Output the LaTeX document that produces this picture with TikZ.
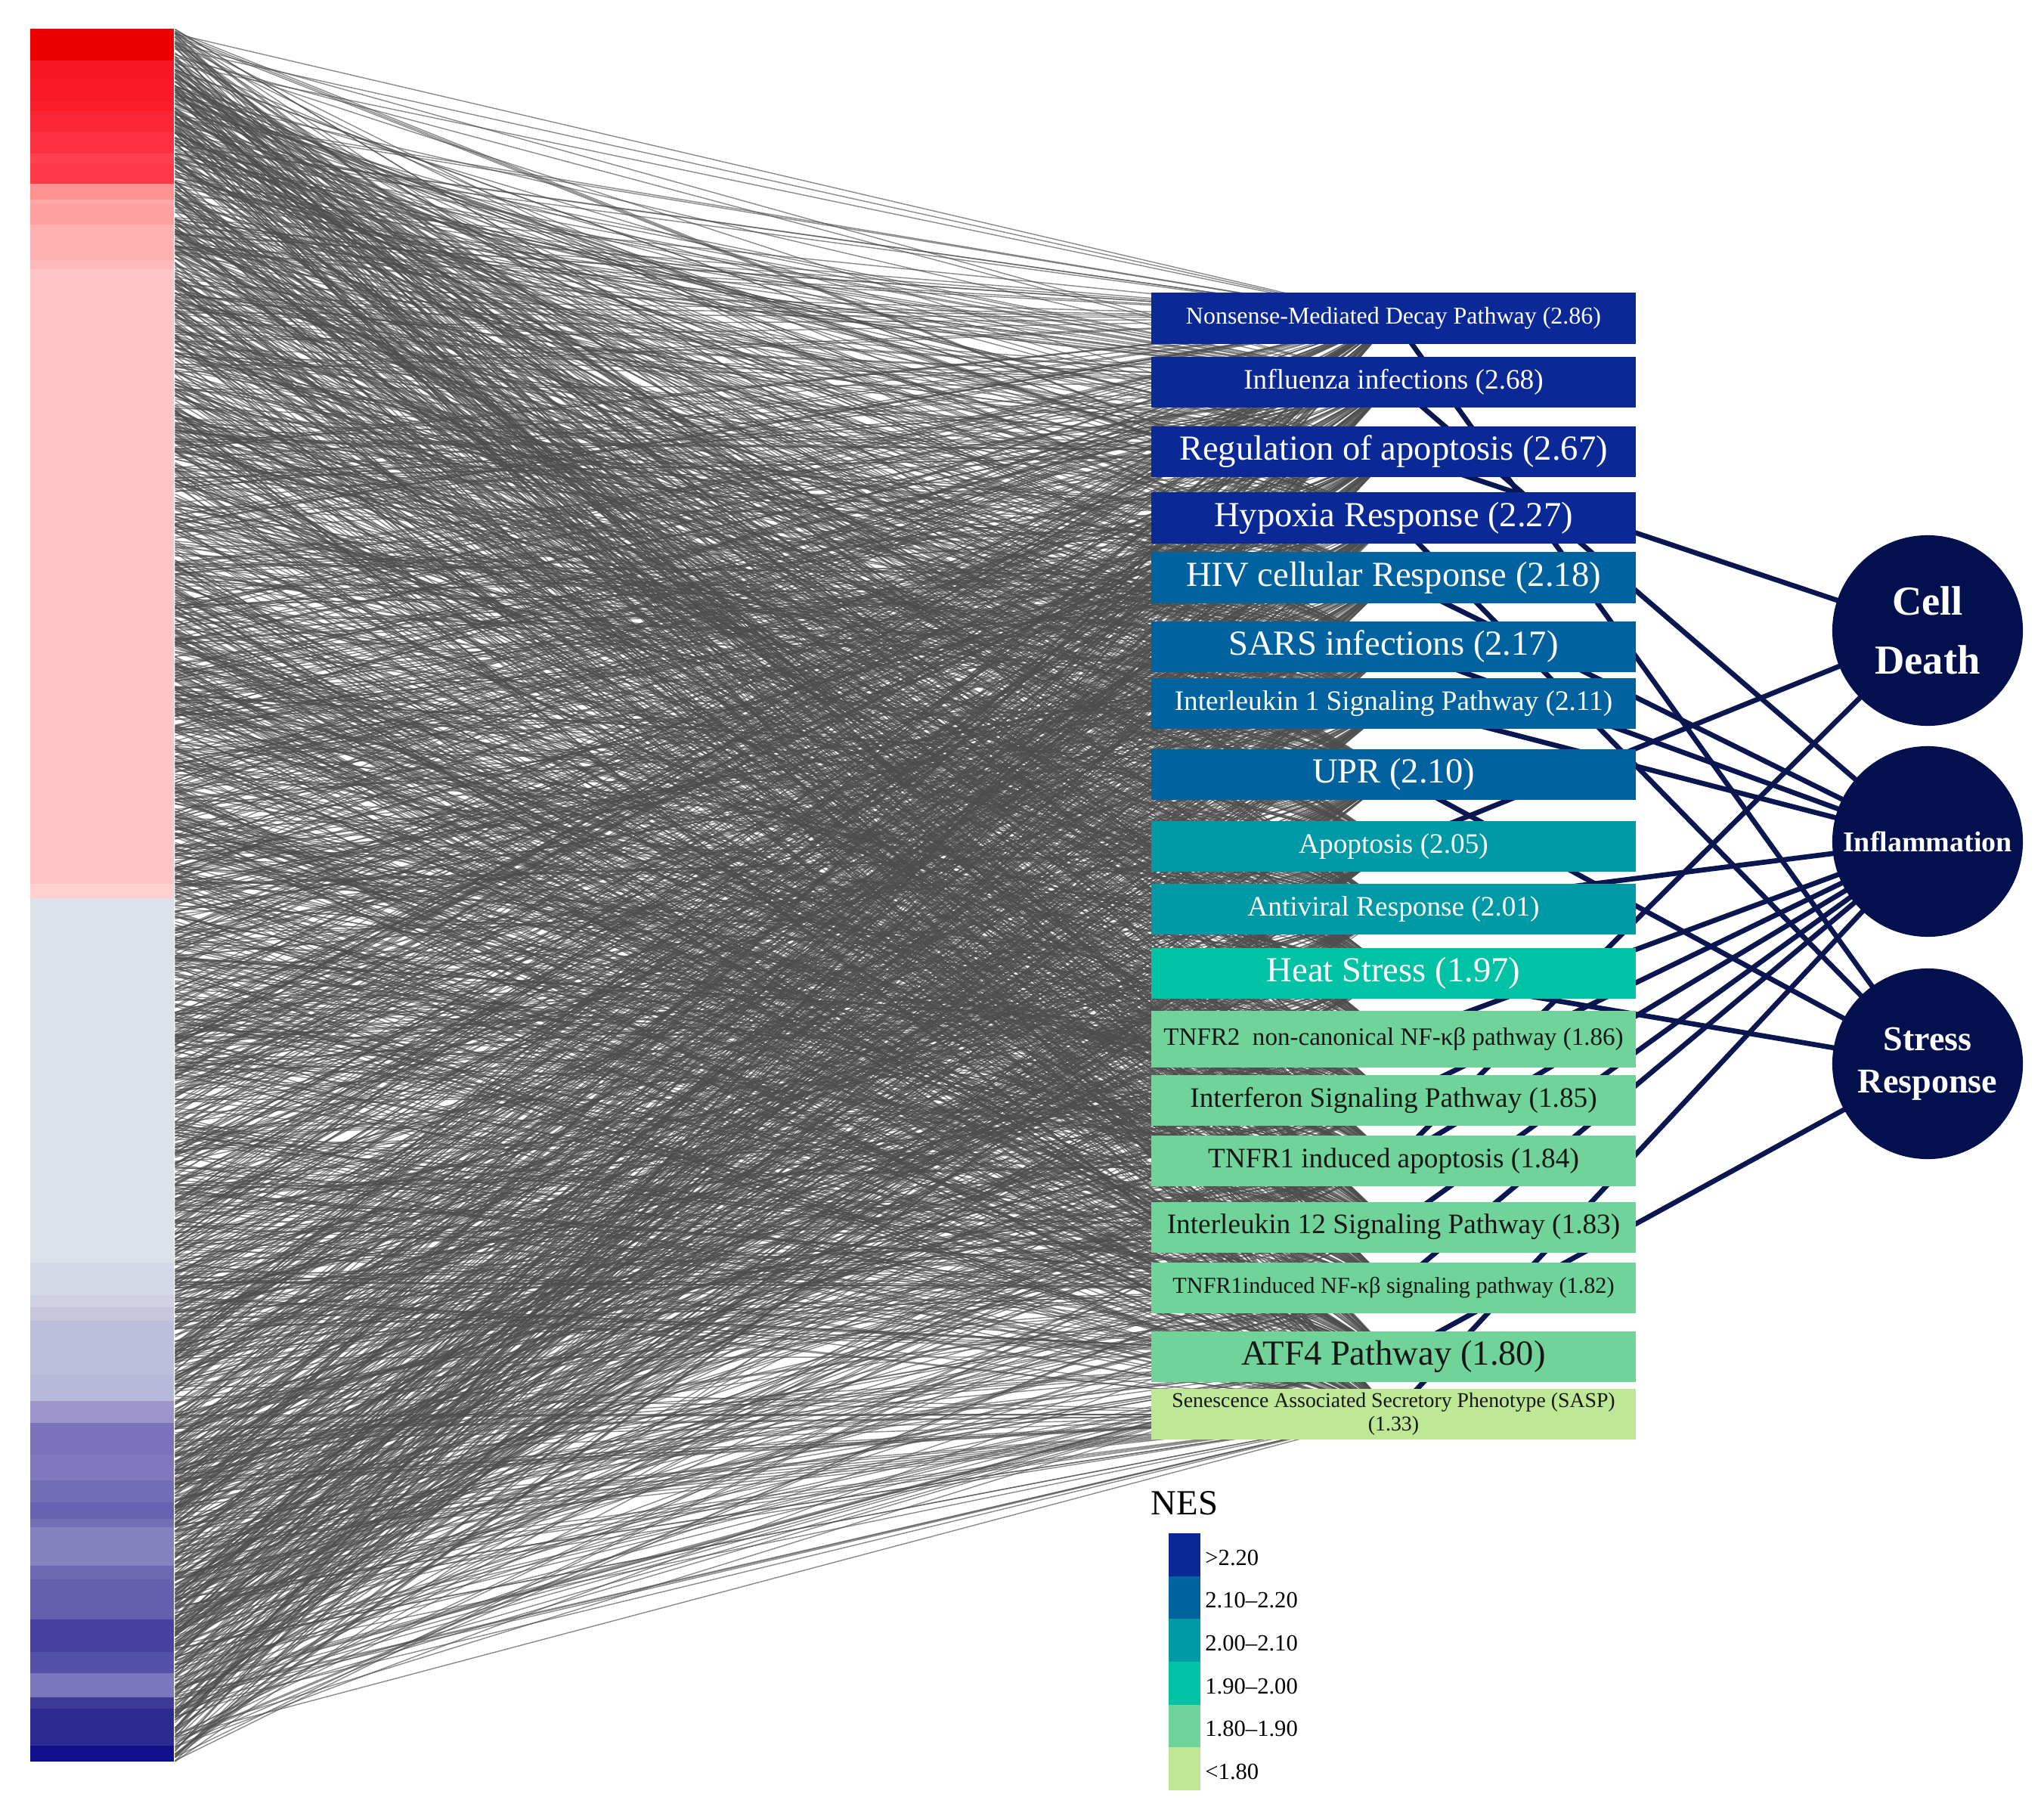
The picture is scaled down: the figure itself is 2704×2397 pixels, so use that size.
\documentclass[tikz,border=0pt]{standalone}
\usepackage{fontspec}
\setmainfont{Liberation Serif}
\usetikzlibrary{calc}

\definecolor{nesA}{HTML}{0A2896}
\definecolor{nesB}{HTML}{0063A0}
\definecolor{nesC}{HTML}{0099A6}
\definecolor{nesD}{HTML}{00C2A5}
\definecolor{nesE}{HTML}{6FD39A}
\definecolor{nesF}{HTML}{BEE896}
\definecolor{hubfill}{HTML}{02104E}
\definecolor{hubline}{HTML}{0A1650}
\definecolor{inkdark}{HTML}{161616}

\pgfdeclarelayer{genelinks}
\pgfdeclarelayer{hublinks}
\pgfsetlayers{genelinks,hublinks,main}

\newcommand{\fsz}[2]{\fontsize{#1}{#2}\selectfont}

\begin{document}
\begin{tikzpicture}[x=0.01cm, y=-0.01cm,
    pathway/.style={rectangle, minimum width=6.41cm, minimum height=0.67cm, inner sep=0pt, text=white, align=center},
    lowpath/.style={pathway, text=inkdark},
    big/.style={font=\fsz{13.25}{15}},
    mid/.style={font=\fsz{10.6}{12}},
    hub/.style={circle, fill=hubfill, minimum size=2.52cm, inner sep=0pt, text=white, align=center},
    genelink/.style={black!70, line width=0.4pt, opacity=0.65},
    hublink/.style={hubline, line width=1.9pt},
    key/.style={rectangle, minimum width=0.42cm, minimum height=0.567cm, inner sep=0pt},
    keylabel/.style={anchor=west, inner sep=0pt, font=\fsz{8.7}{10}}]

    \useasboundingbox (0,0) rectangle (2704,2397);

    % gene column
    \node[anchor=north west, minimum width=1.9cm, minimum height=22.92cm, inner sep=0pt] (genes) at (40,38) {};
    \foreach \ya/\yb/\bandcol in {38/80/EE0000, 80/105/F41620, 105/134/F71A26, 134/147/F81E2A,
            147/174/FA2535, 174/203/FC3040, 203/216/FD4050, 216/243/FE3848, 243/264/FF9191,
            264/270/FFA8A8, 270/297/FFA0A0, 297/344/FFB0B0, 344/356/FFB9B9, 356/1169/FFC4C4,
            1169/1188/FFD0CE, 1188/1670/DCE1EA, 1670/1713/D4D7E6, 1713/1729/CFD0E4, 1729/1747/C6C6DE,
            1747/1818/BCBEDC, 1818/1853/B8B9D8, 1853/1882/9C94CA, 1882/1924/7A72BA, 1924/1958/8078BC,
            1958/1987/746EB6, 1987/2009/6860B0, 2009/2020/7470B6, 2020/2071/8580BE, 2071/2089/6E68B2,
            2089/2142/655FAE, 2142/2185/4A40A0, 2185/2213/5550A8, 2213/2245/7C76BC, 2245/2260/3E3898,
            2260/2309/2A2A90, 2309/2330/10108A}{
        \definecolor{band}{HTML}{\bandcol}
        \fill[band] (40,\ya) rectangle (230,\yb);
    }

    % pathways
    \node[pathway, fill=nesA, font=\fsz{9.1}{11}] (nmd) at (1843.5,421) {Nonsense-Mediated Decay Pathway (2.86)};
    \node[pathway, fill=nesA, mid] (flu) at (1843.5,505.5) {Influenza infections (2.68)};
    \node[pathway, fill=nesA, big] (reg) at (1843.5,597.5) {Regulation of apoptosis (2.67)};
    \node[pathway, fill=nesA, big] (hyp) at (1843.5,685) {Hypoxia Response (2.27)};
    \node[pathway, fill=nesB, big] (hiv) at (1843.5,764) {HIV cellular Response (2.18)};
    \node[pathway, fill=nesB, big] (sars) at (1843.5,855.5) {SARS infections (2.17)};
    \node[pathway, fill=nesB, mid] (ilone) at (1843.5,930.5) {Interleukin 1 Signaling Pathway (2.11)};
    \node[pathway, fill=nesB, big] (upr) at (1843.5,1024.5) {UPR (2.10)};
    \node[pathway, fill=nesC, mid] (apop) at (1843.5,1119.5) {Apoptosis (2.05)};
    \node[pathway, fill=nesC, mid] (antiv) at (1843.5,1202.5) {Antiviral Response (2.01)};
    \node[pathway, fill=nesD, big] (heat) at (1843.5,1287) {Heat Stress (1.97)};
    \node[lowpath, fill=nesE, minimum height=0.75cm, font=\fsz{9.4}{11}] (tnfrtwo) at (1843.5,1374.5) {TNFR2~ non-canonical NF-κβ pathway (1.86)};
    \node[lowpath, fill=nesE, mid] (ifn) at (1843.5,1455) {Interferon Signaling Pathway (1.85)};
    \node[lowpath, fill=nesE, mid] (tnfra) at (1843.5,1535.5) {TNFR1 induced apoptosis (1.84)};
    \node[lowpath, fill=nesE, mid] (iltwelve) at (1843.5,1623) {Interleukin 12 Signaling Pathway (1.83)};
    \node[lowpath, fill=nesE, font=\fsz{8.6}{10}] (tnfrn) at (1843.5,1703.5) {TNFR1induced NF-κβ signaling pathway (1.82)};
    \node[lowpath, fill=nesE, big] (atf) at (1843.5,1794.5) {ATF4 Pathway (1.80)};
    \node[lowpath, fill=nesF, font=\fsz{7.9}{8.9}] (sasp) at (1843.5,1870.5) {Senescence Associated Secretory Phenotype (SASP)\\(1.33)};

    % processes
    \node[hub, font=\bfseries\fsz{15.5}{22}] (death) at (2550,834) {Cell\\Death};
    \node[hub, font=\bfseries\fsz{10.8}{13}] (inflam) at (2550,1113) {Inflammation};
    \node[hub, font=\bfseries\fsz{13.1}{15.8}] (stress) at (2550,1407) {Stress\\Response};

    % gene to pathway links
    \begin{pgfonlayer}{genelinks}
        \pgfmathsetseed{1568}
        \foreach \p in {nmd,flu,reg,hyp,hiv,sars,ilone,upr,apop,antiv,heat,tnfrtwo,ifn,tnfra,iltwelve,tnfrn,atf,sasp}{
            \foreach \k in {1,...,125}{
                \pgfmathsetmacro{\r}{rnd}
                \draw[genelink] ($(genes.north east)!\r!(genes.south east)$) -- (\p.center);
            }
        }
    \end{pgfonlayer}

    % pathway to process links
    \begin{pgfonlayer}{hublinks}
        \foreach \a/\b in {reg/death, apop/death, tnfra/death,
                flu/inflam, hiv/inflam, sars/inflam, ilone/inflam, antiv/inflam, tnfrtwo/inflam,
                ifn/inflam, tnfra/inflam, iltwelve/inflam, tnfrn/inflam, sasp/inflam,
                nmd/stress, hyp/stress, upr/stress, heat/stress, atf/stress}
            \draw[hublink] (\a.center) -- (\b.center);
    \end{pgfonlayer}

    % legend
    \node[anchor=west, inner sep=0pt, font=\fsz{13.3}{15}] (nes) at (1522,1988) {NES};
    \foreach \c/\lbl [count=\i from 0] in {nesA/{>2.20}, nesB/{2.10–2.20}, nesC/{2.00–2.10},
            nesD/{1.90–2.00}, nesE/{1.80–1.90}, nesF/{<1.80}}{
        \node[key, fill=\c] (key\i) at (1567,{2056.3+56.67*\i}) {};
        \node[keylabel] (lab\i) at ($(key\i.east)+(5,4)$) {\lbl};
    }
\end{tikzpicture}
\end{document}
